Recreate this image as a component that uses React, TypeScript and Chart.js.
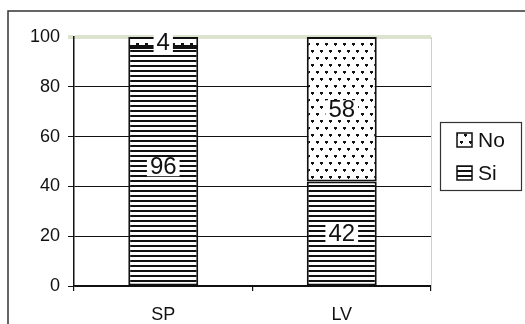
import React, { useEffect, useRef } from 'react';
import { Chart, registerables } from 'chart.js';

Chart.register(...registerables);

const categories = ['SP', 'LV'];
const siValues = [96, 42];
const noValues = [4, 58];
const seriesNames = ['Si', 'No'];
const yTickValues = [0, 20, 40, 60, 80, 100];

const FONT = 'Arial, "Liberation Sans", sans-serif';

function makeStripes(): CanvasPattern | string {
  const c = document.createElement('canvas');
  c.width = 8;
  c.height = 5;
  const g = c.getContext('2d');
  if (!g) return '#888';
  g.fillStyle = '#fff';
  g.fillRect(0, 0, 8, 5);
  g.fillStyle = '#111';
  g.fillRect(0, 0, 8, 2);
  return g.createPattern(c, 'repeat') || '#888';
}

function makeDots(): CanvasPattern | string {
  const c = document.createElement('canvas');
  c.width = 9;
  c.height = 14;
  const g = c.getContext('2d');
  if (!g) return '#ccc';
  g.fillStyle = '#fff';
  g.fillRect(0, 0, 9, 14);
  g.fillStyle = '#111';
  g.fillRect(1, 1, 3, 2);
  g.fillRect(2, 3, 1, 1);
  g.fillRect(5, 8, 3, 2);
  g.fillRect(6, 10, 1, 1);
  return g.createPattern(c, 'repeat') || '#ccc';
}

const framePlugin = {
  id: 'frame',
  beforeDraw(chart: any) {
    const { ctx, width, height } = chart;
    ctx.save();
    ctx.fillStyle = '#fff';
    ctx.fillRect(0, 0, width, height);
    ctx.strokeStyle = '#333';
    ctx.lineWidth = 1.5;
    ctx.beginPath();
    ctx.moveTo(8, height);
    ctx.lineTo(8, 11);
    ctx.lineTo(width, 11);
    ctx.stroke();
    ctx.restore();
  },
  afterDraw(chart: any) {
    const { ctx, chartArea } = chart;
    ctx.save();
    ctx.strokeStyle = '#cfcfcf';
    ctx.lineWidth = 1;
    ctx.beginPath();
    ctx.moveTo(chartArea.right + 0.5, chartArea.top);
    ctx.lineTo(chartArea.right + 0.5, chartArea.bottom);
    ctx.stroke();

    // legend box
    const items = chart.data.datasets.slice().reverse();
    ctx.strokeStyle = '#333';
    ctx.lineWidth = 1.2;
    ctx.strokeRect(440.5, 122.5, 81, 68);
    ctx.font = '21px ' + FONT;
    ctx.textBaseline = 'middle';
    ctx.textAlign = 'left';
    items.forEach((d: any, i: number) => {
      const cy = 140 + i * 33;
      ctx.fillStyle = d.backgroundColor;
      ctx.fillRect(457, cy - 7, 15, 14);
      ctx.strokeStyle = '#111';
      ctx.lineWidth = 1.5;
      ctx.strokeRect(457, cy - 7, 15, 14);
      ctx.fillStyle = '#111';
      ctx.fillText(d.label, 478, cy + 1);
    });
    ctx.restore();
  },
};

const labelPlugin = {
  id: 'barLabels',
  afterDatasetsDraw(chart: any) {
    const { ctx } = chart;
    ctx.save();
    ctx.font = '24px ' + FONT;
    ctx.textAlign = 'center';
    ctx.textBaseline = 'middle';
    chart.data.datasets.forEach((ds: any, di: number) => {
      const meta = chart.getDatasetMeta(di);
      meta.data.forEach((el: any, i: number) => {
        const v = ds.data[i];
        const text = String(v);
        const cy = (el.y + el.base) / 2;
        const w = ctx.measureText(text).width;
        ctx.fillStyle = '#fff';
        ctx.fillRect(el.x - w / 2 - 3, cy - 9, w + 6, 19);
        ctx.fillStyle = '#111';
        ctx.fillText(text, el.x, cy + 1);
      });
    });
    ctx.restore();
  },
};

export default function App() {
  const ref = useRef<HTMLCanvasElement | null>(null);

  useEffect(() => {
    if (!ref.current) return;
    const chart = new Chart(ref.current, {
      type: 'bar',
      data: {
        labels: categories,
        datasets: [
          {
            label: seriesNames[0],
            data: siValues,
            backgroundColor: makeStripes() as any,
            borderColor: '#111',
            borderWidth: 2,
            borderSkipped: false,
            barPercentage: 0.392,
            categoryPercentage: 1,
          },
          {
            label: seriesNames[1],
            data: noValues,
            backgroundColor: makeDots() as any,
            borderColor: '#111',
            borderWidth: 2,
            borderSkipped: false,
            barPercentage: 0.392,
            categoryPercentage: 1,
          },
        ],
      },
      options: {
        animation: false,
        responsive: true,
        maintainAspectRatio: false,
        layout: { padding: { left: 0, top: 37, right: 94, bottom: 0 } },
        plugins: {
          legend: { display: false },
          tooltip: { enabled: false },
        },
        scales: {
          x: {
            stacked: true,
            offset: true,
            grid: {
              offset: true,
              drawOnChartArea: false,
              drawTicks: true,
              tickLength: 5,
              color: '#111',
              lineWidth: 1.2,
            },
            border: { display: true, color: '#111', width: 1.5 },
            ticks: {
              color: '#111',
              font: { family: FONT, size: 18 },
              padding: 13,
            },
            afterFit(scale: any) {
              scale.height = 38;
            },
          },
          y: {
            stacked: true,
            min: 0,
            max: 100,
            afterBuildTicks(scale: any) {
              scale.ticks = yTickValues.map((v) => ({ value: v }));
            },
            grid: {
              color: (c: any) => (c.tick && c.tick.value === 100 ? 'rgba(205,215,185,0.7)' : '#111'),
              lineWidth: (c: any) => (c.tick && c.tick.value === 100 ? 4 : 1),
              tickLength: 6,
            },
            border: { display: true, color: '#111', width: 1.5 },
            ticks: {
              color: '#111',
              font: { family: FONT, size: 18 },
              padding: 8,
            },
            afterFit(scale: any) {
              scale.width = 74;
            },
          },
        },
      },
      plugins: [framePlugin, labelPlugin],
    });
    return () => chart.destroy();
  }, []);

  return (
    <div style={{ position: 'fixed', left: 0, top: 0, width: 525, height: 324 }}>
      <canvas ref={ref} />
    </div>
  );
}
